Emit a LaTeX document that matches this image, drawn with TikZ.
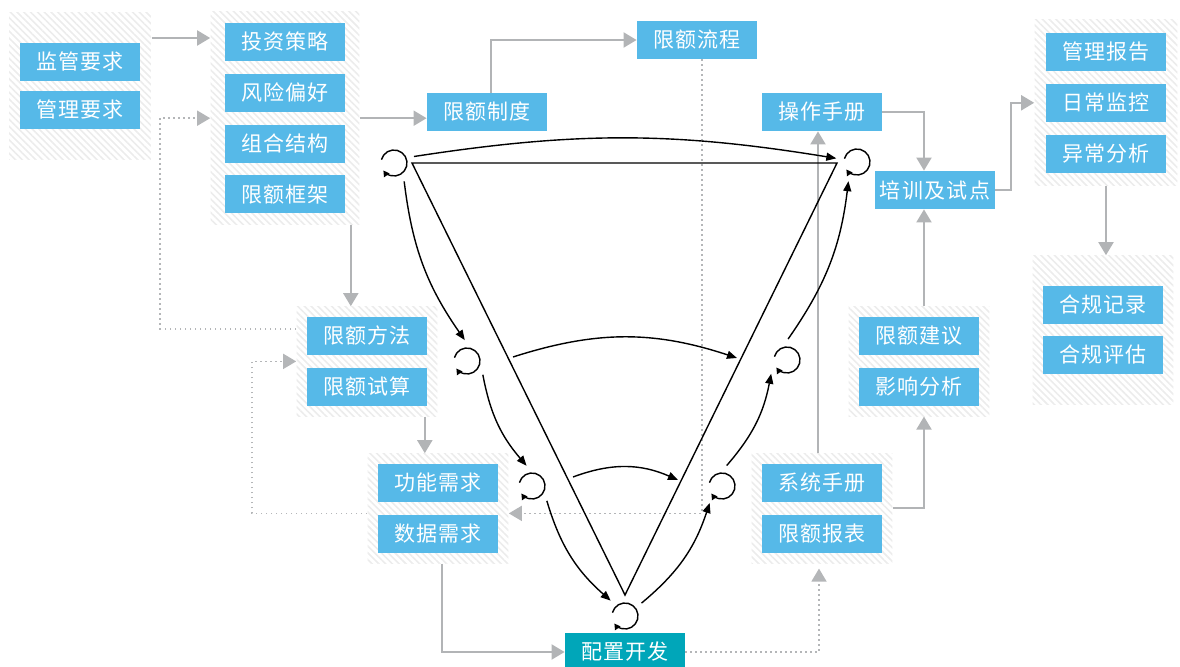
\documentclass[tikz,border=0pt]{standalone}
\usepackage{fontspec}
\newfontfamily\zhfont[LetterSpace=6]{Noto Sans CJK SC}
\usetikzlibrary{arrows.meta,positioning,fit,backgrounds,patterns.meta}
\definecolor{tagblue}{RGB}{86,185,232}
\definecolor{devteal}{RGB}{0,166,185}
\definecolor{linegray}{RGB}{178,180,182}
\definecolor{dotgray}{RGB}{180,182,184}
\definecolor{hatchgray}{RGB}{236,236,236}
\tikzset{
  tag/.style={fill=tagblue,text=white,minimum width=60pt,minimum height=19pt,
    inner sep=0pt,font=\zhfont\fontsize{10.5}{12}\selectfont},
  dev/.style={tag,fill=devteal},
  grp/.style={inner xsep=5pt,inner ysep=5pt,
    pattern={Lines[angle=-45,distance=2.4pt,line width=0.8pt]},pattern color=hatchgray},
  cyc/.style={circle,minimum size=21pt,inner sep=0pt,outer sep=0pt},
  flow/.style={-{Triangle[length=6.5pt,width=7.5pt]},line width=1pt,linegray},
  dflow/.style={-{Triangle[length=6.5pt,width=7.5pt]},line width=0.8pt,dotgray,
    dash pattern=on 0.8pt off 1.7pt},
  vline/.style={line width=0.7pt,line join=miter},
  varr/.style={-{Triangle[length=5pt,width=4pt]},line width=0.7pt},
  cycarr/.style={-{Triangle[length=3pt,width=3.2pt]},line width=0.7pt},
}

\begin{document}
\begin{tikzpicture}[x=0.5pt,y=0.5pt,node distance=6pt]
  \useasboundingbox (0,0) rectangle (1180,-667);

  % left side: requirements down to development
  \node[tag] (jg) at (80,-62) {监管要求};
  \node[tag,below=4.5pt of jg] (gl) {管理要求};

  \node[tag] (tz) at (285,-42) {投资策略};
  \node[tag,below=of tz] (fx) {风险偏好};
  \node[tag,below=of fx] (zh) {组合结构};
  \node[tag,below=of zh] (kj) {限额框架};

  \node[tag] (zd) at (487,-112) {限额制度};
  \node[tag] (lc) at (697,-40) {限额流程};

  \node[tag] (ff) at (367,-336) {限额方法};
  \node[tag,below=of ff] (ss) {限额试算};
  \node[tag] (gn) at (438,-483) {功能需求};
  \node[tag,below=of gn] (sj) {数据需求};
  \node[dev] (pz) at (625,-652) {配置开发};

  % right side: delivery up to monitoring
  \node[tag] (xt) at (822,-483) {系统手册};
  \node[tag,below=of xt] (bb) {限额报表};
  \node[tag] (jy) at (919,-336) {限额建议};
  \node[tag,below=of jy] (yx) {影响分析};
  \node[tag] (cz) at (822,-112) {操作手册};
  \node[tag] (px) at (935,-190) {培训及试点};

  \node[tag] (bg) at (1106,-52) {管理报告};
  \node[tag,below=of bg] (jk) {日常监控};
  \node[tag,below=of jk] (yc) {异常分析};
  \node[tag] (jl) at (1103,-305) {合规记录};
  \node[tag,below=5.5pt of jl] (pg) {合规评估};

  \begin{scope}[on background layer]
    \node[grp,inner xsep=5.25pt,inner ysep=15.25pt,fit=(jg)(gl)] (g1) {};
    \node[grp,inner xsep=7pt,inner ysep=5.5pt,fit=(tz)(kj)] (g2) {};
    \node[grp,fit=(ff)(ss)] (g3) {};
    \node[grp,fit=(gn)(sj)] (g4) {};
    \node[grp,fit=(xt)(bb)] (g5) {};
    \node[grp,fit=(jy)(yx)] (g6) {};
    \node[grp,inner xsep=5.5pt,inner ysep=6.5pt,fit=(bg)(yc)] (g7) {};
    \node[grp,inner ysep=15pt,fit=(jl)(pg)] (g8) {};
  \end{scope}

  % gray process links
  \draw[flow] ([yshift=2pt]tz.west -| g1.east) -- ([yshift=2pt]tz.west -| g2.west);
  \draw[flow] (g2.east) -- (g2.east -| zd.west);
  \draw[flow] ([xshift=2pt]zd.north) |- (lc.west);
  \draw[flow] ([xshift=-4.5pt]g2.south east) -- ([xshift=-4.5pt]g2.south east |- g3.north);
  \draw[dflow] ([yshift=3.5pt]ff.west -| g3.west) -- ++(-136,0) |- (g2.west);
  \draw[dflow] ([yshift=-2.5pt]g4.west) -- ++(-115,0) |- (g3.west);
  \draw[flow] ([xshift=-6.5pt]g3.south east) -- ([xshift=-6.5pt]g3.south east |- g4.north);
  \draw[dflow] ([xshift=2.5pt]lc.south) |- ([yshift=-2.5pt]g4.east);
  \draw[flow] ([xshift=2pt]g4.south) |- (pz.west);
  \draw[dflow] (pz.east) -| ([xshift=-1.5pt,yshift=-2.5pt]g5.south);
  \draw[flow] ([xshift=-2pt]g5.north) -- ([xshift=-2pt]cz.south);
  \draw[flow] (g5.east) -| ([xshift=2.5pt]g6.south);
  \draw[flow] ([xshift=2.5pt]g6.north) -- ([xshift=2.5pt]g6.north |- px.south);
  \draw[flow] (cz.east) -| ([xshift=2.5pt]g6.north |- px.north);
  \draw[flow] (px.east) -- ++(16,0) |- (g7.west);
  \draw[flow] (g7.south) -- (g7.south |- g8.north);

  % V model with iteration loops
  \node[cyc] (c1) at (394,-163) {};
  \node[cyc] (c2) at (857,-162) {};
  \node[cyc] (c3) at (467,-361) {};
  \node[cyc] (c4) at (787,-360) {};
  \node[cyc] (c5) at (532,-486) {};
  \node[cyc] (c6) at (722,-486) {};
  \node[cyc] (c7) at (625,-616) {};
  \foreach \i in {1,...,7}
    \draw[cycarr] ([shift={(165:6.5pt)}]c\i.center) arc[start angle=165,end angle=-145,radius=6.5pt];

  \coordinate (tl) at (412,-163);
  \coordinate (tr) at (837,-163);
  \coordinate (tb) at (625,-595);
  \draw[vline] (tl) -- (tr) -- (tb) -- cycle;

  \draw[varr] (c1.18) to[bend left=9] (c2.170);
  \draw[varr] (c1.-61) to[bend right=14] (c3.96);
  \draw[varr] (c3.-41) to[bend right=15] (c5.105);
  \draw[varr] (c5.-45) to[bend right=16] (c7.133);
  \draw[varr] (c7.38) to[bend right=16] (c6.-126);
  \draw[varr] (c6.77) to[bend right=15] (c4.-139);
  \draw[varr] (c4.87) to[bend right=14] (c2.-114);

  \coordinate (m3) at (513,-357);
  \coordinate (m4) at (737,-358);
  \coordinate (m5) at (573,-477);
  \coordinate (m6) at (678,-480);
  \draw[varr] (m3) to[bend left=18] (m4);
  \draw[varr] (m5) to[bend left=22] (m6);
\end{tikzpicture}
\end{document}
